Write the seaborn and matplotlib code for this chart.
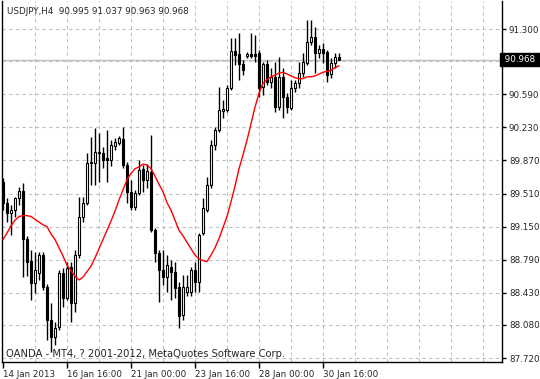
import numpy as np
import pandas as pd
import seaborn as sns
import matplotlib
matplotlib.use("Agg")
import matplotlib.pyplot as plt
import matplotlib.transforms as mtransforms

# ---------------------------------------------------------
#  USDJPY H4 candles
# ---------------------------------------------------------
opens = [89.64, 89.41, 89.30, 89.33, 89.46, 89.54, 89.02, 88.78, 88.54, 88.65,
         88.84, 88.49, 88.13, 87.95, 88.06, 88.65, 88.37, 88.71, 88.32, 88.84,
         89.26, 89.41, 89.84, 89.84, 89.95, 89.95, 89.90, 89.87, 90.03, 90.06,
         90.10, 89.82, 89.53, 89.36, 89.52, 89.78, 89.66, 89.74, 89.11, 88.86,
         88.68, 88.60, 88.71, 88.66, 88.49, 88.19, 88.44, 88.44, 88.68, 88.55,
         89.08, 89.33, 89.60, 90.04, 90.20, 90.41, 90.42, 90.66, 91.06, 91.03,
         90.92, 91.01, 91.03, 91.03, 91.04, 90.67, 90.92, 90.72, 90.78, 90.45,
         90.78, 90.56, 90.44, 90.66, 90.71, 90.82, 90.93, 91.16, 91.21, 91.04,
         91.08, 91.05, 90.81, 90.93, 90.995]
highs = [89.68, 89.46, 89.39, 89.47, 89.58, 89.62, 89.05, 88.90, 88.87, 88.87,
         88.87, 88.53, 88.32, 88.11, 88.68, 88.70, 88.77, 88.77, 88.90, 89.47,
         89.47, 89.95, 90.13, 90.22, 90.17, 90.02, 90.20, 90.09, 90.11, 90.14,
         90.23, 89.85, 89.66, 89.55, 89.87, 89.82, 89.83, 90.15, 89.14, 88.90,
         88.90, 88.84, 88.79, 88.77, 88.55, 88.62, 88.62, 88.71, 88.77, 89.08,
         89.46, 89.69, 90.09, 90.23, 90.67, 90.53, 90.69, 91.20, 91.20, 91.26,
         90.96, 91.05, 91.26, 91.24, 91.07, 90.94, 90.96, 90.88, 90.94, 91.00,
         90.88, 90.60, 90.75, 90.75, 90.94, 91.04, 91.40, 91.40, 91.32, 91.13,
         91.15, 91.07, 90.99, 91.04, 91.037]
lows = [89.33, 89.20, 89.06, 89.26, 89.39, 88.60, 88.61, 88.35, 88.43, 88.57,
        88.46, 87.92, 87.79, 87.86, 88.03, 88.28, 88.35, 88.11, 88.22, 88.81,
        89.20, 89.39, 89.60, 89.60, 89.64, 89.79, 89.64, 89.81, 89.98, 90.04,
        89.79, 89.41, 89.33, 89.33, 89.49, 89.53, 89.57, 89.09, 88.77, 88.33,
        88.52, 88.44, 88.35, 88.37, 88.05, 88.13, 88.39, 88.39, 88.44, 88.44,
        89.06, 89.31, 89.57, 89.98, 90.18, 90.33, 90.40, 90.64, 90.91, 90.75,
        90.80, 90.99, 90.99, 90.94, 90.56, 90.58, 90.69, 90.66, 90.40, 90.42,
        90.33, 90.39, 90.42, 90.62, 90.66, 90.78, 90.91, 91.13, 90.82, 90.99,
        90.93, 90.72, 90.77, 90.88, 90.963]
closes = [89.41, 89.30, 89.33, 89.46, 89.54, 89.01, 88.77, 88.54, 88.68, 88.84,
          88.49, 88.13, 87.95, 88.05, 88.65, 88.37, 88.70, 88.32, 88.84, 89.26,
          89.41, 89.84, 89.85, 89.96, 89.96, 89.87, 89.87, 90.04, 90.07, 90.11,
          89.82, 89.53, 89.36, 89.52, 89.77, 89.66, 89.76, 89.11, 88.86, 88.68,
          88.60, 88.73, 88.66, 88.48, 88.18, 88.49, 88.49, 88.68, 88.55, 89.06,
          89.35, 89.60, 90.04, 90.20, 90.42, 90.43, 90.66, 91.06, 91.02, 90.92,
          90.85, 91.03, 91.01, 91.01, 90.66, 90.92, 90.72, 90.78, 90.45, 90.78,
          90.56, 90.45, 90.66, 90.71, 90.82, 90.94, 91.16, 91.21, 91.04, 91.08,
          91.04, 90.80, 90.93, 91.00, 90.968]
# moving average (red line)
ma = [89.01, 89.08, 89.16, 89.22, 89.26, 89.27, 89.27, 89.26, 89.23, 89.20,
      89.17, 89.15, 89.07, 89.01, 88.92, 88.83, 88.73, 88.67, 88.61, 88.57,
      88.60, 88.66, 88.72, 88.81, 88.91, 89.01, 89.11, 89.21, 89.32, 89.44,
      89.55, 89.66, 89.73, 89.78, 89.80, 89.83, 89.82, 89.78, 89.70, 89.61,
      89.53, 89.41, 89.33, 89.22, 89.11, 89.05, 88.98, 88.91, 88.84, 88.80,
      88.78, 88.77, 88.84, 88.92, 89.02, 89.14, 89.26, 89.42, 89.59, 89.78,
      89.93, 90.09, 90.27, 90.45, 90.60, 90.71, 90.75, 90.78, 90.80, 90.82,
      90.83, 90.81, 90.79, 90.77, 90.76, 90.76, 90.78, 90.78, 90.79, 90.81,
      90.83, 90.84, 90.85, 90.88, 90.90]

date_ticks = [0, 16, 32, 48, 64, 80]
date_labels = ["14 Jan 2013", "16 Jan 16:00", "21 Jan 00:00",
               "23 Jan 16:00", "28 Jan 00:00", "30 Jan 16:00"]
price_ticks = [91.300, 90.590, 90.230, 89.870, 89.510, 89.150,
               88.790, 88.430, 88.080, 87.720]
hidden_grid = [90.950]

df = pd.DataFrame({"bar": np.arange(len(opens)), "open": opens, "high": highs,
                   "low": lows, "close": closes, "ma": ma})
last = df.iloc[-1]

sns.set_style("white")
plt.rcParams["font.family"] = ["DejaVu Sans"]
FS = 6.3

fig = plt.figure(figsize=(5.4, 3.79), dpi=100)
ax = fig.add_axes([2 / 540, 17 / 379, 500 / 540, 361 / 379])
ax.set_xlim(-0.25, 124.75)
ax.set_ylim(87.677, 91.605)

# grid
grid_col = "#c0c0c0"
for gx in range(8, 125, 8):
    ax.axvline(gx, color=grid_col, lw=0.8, ls=(0, (3, 3)), zorder=0)
for gy in price_ticks + hidden_grid:
    ax.axhline(gy, color=grid_col, lw=0.8, ls=(0, (3, 3)), zorder=0)

# bid line
ax.axhline(last["close"], color="#c0c0c0", lw=1, zorder=1)

# candles
ax.vlines(df["bar"], df["low"], df["high"], color="black", lw=1, zorder=2)
bull = df["close"] >= df["open"]
body_lo = np.minimum(df["open"], df["close"])
body_h = (df["close"] - df["open"]).abs().clip(lower=0.004)
ax.bar(df["bar"], body_h, bottom=body_lo, width=0.62,
       color=np.where(bull, "white", "black"), edgecolor="black",
       linewidth=0.8, zorder=3)

# moving average
sns.lineplot(data=df, x="bar", y="ma", color="red", lw=1, ax=ax, zorder=4)

# axes
ax.set_xlabel("")
ax.set_ylabel("")
for side in ["left", "bottom", "right"]:
    ax.spines[side].set_color("black")
    ax.spines[side].set_linewidth(1)
ax.spines["top"].set_visible(False)

ax.set_xticks(date_ticks)
ax.set_xticklabels(date_labels, fontsize=FS)
for lab in ax.get_xticklabels():
    lab.set_ha("left")
ax.tick_params(axis="x", length=4, width=1, pad=2, color="black",
               bottom=True)

ax.yaxis.tick_right()
ax.set_yticks(price_ticks)
ax.set_yticklabels([f"{p:.3f}" for p in price_ticks], fontsize=FS)
ax.tick_params(axis="y", length=3, width=1, pad=2, color="black", right=True)

# current price box
trans = mtransforms.blended_transform_factory(ax.transAxes, ax.transData)
ax.text(1.0, last["close"], f" {last['close']:.3f} ", transform=trans,
        ha="left", va="center", fontsize=FS, color="white", clip_on=False,
        bbox=dict(boxstyle="square,pad=0.2", fc="black", ec="black"))

# texts
ax.text(0.01, 0.972, "USDJPY,H4  {:.3f} {:.3f} {:.3f} {:.3f}".format(
        last["open"], last["high"], last["low"], last["close"]),
        transform=ax.transAxes, ha="left", va="center", fontsize=FS)
ax.text(0.008, 0.022, "OANDA - MT4, ? 2001-2012, MetaQuotes Software Corp.",
        transform=ax.transAxes, ha="left", va="center", fontsize=7.2)

fig.savefig("out.png", dpi=100, facecolor="white")
